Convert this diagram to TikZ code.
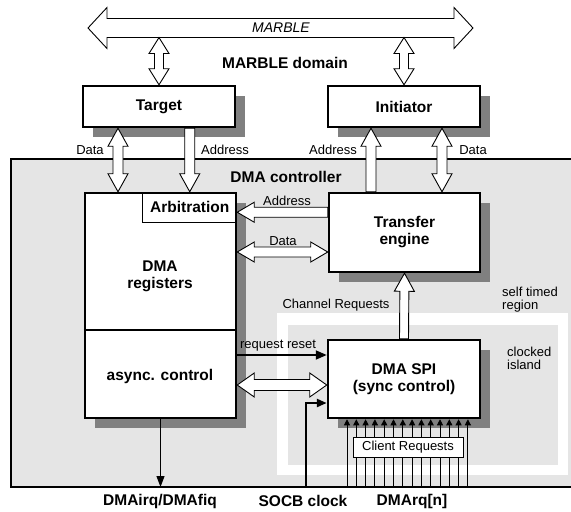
\documentclass[tikz,border=0pt]{standalone}
\usepackage{fontspec}
\setmainfont{Liberation Sans}
\usetikzlibrary{calc,arrows.meta,shadows}

\newcommand{\bfont}{\fontsize{15.5}{17}\selectfont\bfseries}
\newcommand{\lfont}{\fontsize{13}{13.5}\selectfont}

% fat arrows: shaft half width, head half width, head length, from, to
\newcommand{\bidir}[5]{%
  \draw[fatline] ($(#4)!#3!(#5)!#1!90:(#5)$) -- ($(#5)!#3!(#4)!#1!90:(#5)$)
    -- ($(#5)!#3!(#4)!#2!90:(#5)$) -- (#5) -- ($(#5)!#3!(#4)!#2!-90:(#5)$)
    -- ($(#5)!#3!(#4)!#1!-90:(#5)$) -- ($(#4)!#3!(#5)!#1!-90:(#5)$)
    -- ($(#4)!#3!(#5)!#2!-90:(#5)$) -- (#4) -- ($(#4)!#3!(#5)!#2!90:(#5)$) -- cycle;}
\newcommand{\unidir}[5]{%
  \draw[fatline] ($(#4)!#1!90:(#5)$) -- ($(#5)!#3!(#4)!#1!90:(#5)$)
    -- ($(#5)!#3!(#4)!#2!90:(#5)$) -- (#5) -- ($(#5)!#3!(#4)!#2!-90:(#5)$)
    -- ($(#5)!#3!(#4)!#1!-90:(#5)$) -- ($(#4)!#1!-90:(#5)$) -- cycle;}

\tikzset{
  blk/.style={draw, line width=2.5pt, fill=white, align=center, font=\bfont,
    drop shadow={shadow xshift=10pt, shadow yshift=-10pt, fill=black!50, draw=none, opacity=1}},
  lbl/.style={font=\lfont, inner sep=0pt},
  ttl/.style={font=\bfont, inner sep=0pt, align=center},
  fatline/.style={draw, fill=white, line width=0.9pt, line join=miter},
  rstline/.style={line width=1.8pt, -{Triangle[length=11pt, width=9pt]}},
  clkline/.style={line width=2.6pt, -{Triangle[length=10pt, width=8pt]}},
  irqline/.style={line width=1.1pt, -{Triangle[length=11pt, width=8pt]}},
  reqline/.style={line width=0.9pt, -{Triangle[length=6pt, width=6pt]}},
}

\begin{document}
\begin{tikzpicture}[x=1pt, y=-1pt]
  \useasboundingbox (0,0) rectangle (571,512);
  % regions
  \fill[black!10] (11,159) rectangle (575,487);
  \draw[line width=1.2pt] (575,159) -- (11,159) -- (11,487) -- (575,487);
  \fill[white] (277,313) rectangle (568,475);
  \fill[black!10] (288,325) rectangle (558,465);
  \node[ttl] (ctrl) at (286,177) {DMA controller};
  \node[lbl, anchor=west, align=left] (stime) at (502,299.5) {self timed\\region};
  \node[lbl, anchor=west, align=left] (clkisl) at (507,358.5) {clocked\\island};

  % MARBLE bus
  \coordinate (busL) at (88,28);
  \coordinate (busR) at (473,28);
  \coordinate (busS) at (281,37.5);
  \bidir{9.5pt}{20.5pt}{19pt}{busL}{busR}
  \node[lbl, font=\fontsize{14}{15}\selectfont\itshape] (marble) at (281,28) {MARBLE};
  \node[ttl] (domain) at (285,63) {MARBLE domain};

  % blocks
  \node[blk, minimum width=152pt, minimum height=41pt] (target) at (159,106.5) {Target};
  \node[blk, minimum width=152pt, minimum height=41pt] (initiator) at (404,106.5) {Initiator};
  \node[blk, minimum width=151pt, minimum height=225pt] (regs) at (160.5,305.5) {};
  \node[draw, line width=1pt, minimum width=94pt, minimum height=30pt, anchor=north east,
    font=\bfont] (arb) at (regs.north east) {Arbitration};
  \draw[line width=1.2pt] ([yshift=-24.5pt]regs.west) -- ([yshift=-24.5pt]regs.east);
  \node[ttl] (regslbl) at (160,276) {DMA\\registers};
  \node[ttl] (async) at (160,376) {async. control};
  \node[blk, minimum width=151pt, minimum height=79pt] (engine) at (404.5,232.5) {Transfer\\engine};
  \node[blk, minimum width=152pt, minimum height=78pt] (spi) at (404,379) {DMA SPI\\(sync control)};

  % bus connections
  \bidir{4.5pt}{10pt}{16pt}{target.north |- busS}{target.north}
  \bidir{4.5pt}{10pt}{16pt}{initiator.north |- busS}{initiator.north}

  % target / initiator links
  \coordinate (rD) at ([xshift=-42.5pt]regs.north);
  \coordinate (eA) at ([xshift=-33.5pt]engine.north);
  \coordinate (eD) at ([xshift=37.5pt]engine.north);
  \bidir{5pt}{10pt}{18pt}{target.south -| rD}{rD}
  \unidir{5pt}{10pt}{18pt}{target.south -| arb.north}{arb.north}
  \unidir{5pt}{10pt}{18pt}{eA}{initiator.south -| eA}
  \bidir{5pt}{10pt}{18pt}{initiator.south -| eD}{eD}
  \node[lbl] (tdlbl) at (90,150) {Data};
  \node[lbl] (talbl) at (225,150) {Address};
  \node[lbl] (ialbl) at (333,150) {Address};
  \node[lbl] (idlbl) at (473,150) {Data};

  % internal links
  \coordinate (aA) at ([yshift=-5pt]arb.east);
  \coordinate (eW) at ([yshift=-19.5pt]engine.west);
  \coordinate (sB) at ([yshift=-6pt]spi.west);
  \unidir{5pt}{10pt}{17pt}{engine.west |- aA}{aA}
  \bidir{5pt}{10pt}{17pt}{regs.east |- eW}{eW}
  \unidir{4.5pt}{10pt}{18pt}{spi.north}{engine.south}
  \bidir{5.5pt}{12pt}{17pt}{regs.east |- sB}{sB}
  \node[lbl] (ealbl) at (287,201) {Address};
  \node[lbl] (edlbl) at (283,241) {Data};
  \node[lbl] (chlbl) at (336,305) {Channel Requests};

  % control signals
  \coordinate (sR) at ([yshift=24pt]spi.west);
  \coordinate (sC) at ([yshift=-24pt]spi.west);
  \coordinate (floor) at (0,487);
  \coordinate (clk) at (306,487);
  \draw[rstline] (regs.east |- sR) -- (sR);
  \node[lbl] (rstlbl) at (278,346) {request reset};
  \draw[clkline] (clk) |- (sC);
  \draw[irqline] (regs.south) -- (regs.south |- floor);

  % client request lines
  \foreach \i in {0,...,13} {
    \coordinate (cr) at (347+9.3*\i,487);
    \draw[reqline] (cr) -- (cr |- spi.south);
  }
  \node[draw, fill=white, line width=1pt, minimum width=110pt, minimum height=20pt,
    inner sep=0pt, font=\lfont] (client) at (408,447) {Client Requests};

  % pins
  \node[ttl] (irq) at (160,501) {DMAirq/DMAfiq};
  \node[ttl] (socb) at (303,501) {SOCB clock};
  \node[ttl] (dmarq) at (412,501) {DMArq[n]};
\end{tikzpicture}
\end{document}
